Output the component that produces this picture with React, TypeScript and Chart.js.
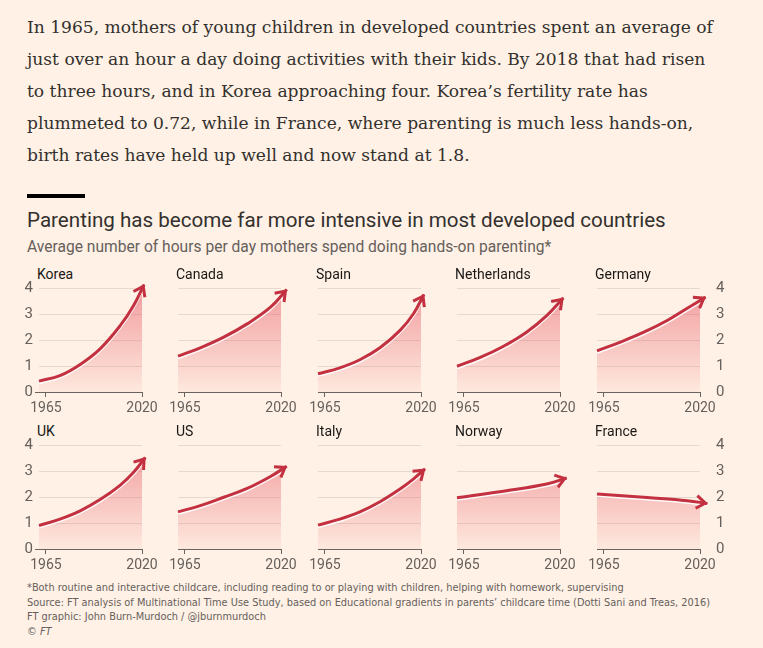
import React, { useEffect, useRef } from "react";
import { Chart, registerables } from "chart.js";

Chart.register(...registerables);

// ---------- DATA ----------
const countryNames = ["Korea", "Canada", "Spain", "Netherlands", "Germany", "UK", "US", "Italy", "Norway", "France"];

const koreaYears = [1961, 1973, 1984.6, 1996, 2007.6, 2015.2, 2021.2];
const koreaHours = [0.42, 0.63, 1.06, 1.66, 2.56, 3.33, 4.13];

const canadaYears = [1961, 1973.8, 1987.2, 2000.6, 2014, 2023.3];
const canadaHours = [1.38, 1.7, 2.11, 2.62, 3.26, 3.94];

const spainYears = [1961, 1973.5, 1985, 1996.5, 2008, 2015.6, 2021.7];
const spainHours = [0.7, 0.93, 1.24, 1.7, 2.37, 3.0, 3.75];

const netherlandsYears = [1961, 1974, 1987.4, 2000.8, 2012.4, 2021.9];
const netherlandsHours = [0.99, 1.32, 1.75, 2.3, 2.94, 3.62];

const germanyYears = [1961, 1974.4, 1987.8, 2001.2, 2012.7, 2023.2];
const germanyHours = [1.58, 1.92, 2.3, 2.75, 3.22, 3.65];

const ukYears = [1961, 1973, 1984.6, 1996, 2007.6, 2015.2, 2021.9];
const ukHours = [0.9, 1.15, 1.47, 1.9, 2.46, 2.95, 3.52];

const usYears = [1961, 1973.8, 1987.2, 2000.6, 2014, 2023.3];
const usHours = [1.43, 1.67, 1.99, 2.33, 2.79, 3.18];

const italyYears = [1961, 1973.5, 1985, 1996.5, 2008, 2015.6, 2022.3];
const italyHours = [0.92, 1.15, 1.43, 1.82, 2.31, 2.69, 3.08];

const norwayYears = [1961, 1989.4, 2012.4, 2023.8];
const norwayHours = [1.97, 2.24, 2.5, 2.73];

const franceYears = [1961, 1989.7, 2012.7, 2024.2];
const franceHours = [2.12, 1.98, 1.86, 1.75];

const seriesYears = [koreaYears, canadaYears, spainYears, netherlandsYears, germanyYears, ukYears, usYears, italyYears, norwayYears, franceYears];
const seriesHours = [koreaHours, canadaHours, spainHours, netherlandsHours, germanyHours, ukHours, usHours, italyHours, norwayHours, franceHours];

const xTickYears = [1965, 2020];
const xMin = 1961;
const xMax = 2020;
const yTickValues = [0, 1, 2, 3, 4];

// ---------- STYLE ----------
const LINE_COLOR = "#c3303f";
const AXIS_COLOR = "#6b6360";
const GRID_COLOR = "#e6d9ce";
const TEXT_GREY = "#66605c";
const SANS = "Roboto, 'Open Sans', sans-serif";

const PLOT_LEFTS = [39, 178, 318, 457, 597];
const ROW_TOPS = [288, 445];
const PLOT_W = 103;
const PAD_TOP = 28;
const LEFT_W = 30;
const RIGHT_W = 37;
const BOTTOM_H = 26;
const PLOT_H = 104;

const arrowPlugin = {
  id: "arrowHead",
  beforeDatasetDraw(chart: any, args: any) {
    if (args.index !== 0) return;
    const ctx = chart.ctx;
    ctx.save();
    ctx.shadowColor = "rgba(255,255,255,0.9)";
    ctx.shadowOffsetX = 0;
    ctx.shadowOffsetY = 1.6;
    ctx.shadowBlur = 0;
  },
  afterDatasetDraw(chart: any, args: any) {
    if (args.index !== 0) return;
    chart.ctx.restore();
  },
  afterDatasetsDraw(chart: any) {
    const meta = chart.getDatasetMeta(0);
    const pts = meta.data;
    if (!pts || pts.length < 2) return;
    const last = pts[pts.length - 1];
    let dx = 0, dy = 0;
    if (last.cp1x !== undefined && last.cp1x !== null) {
      dx = last.x - last.cp1x;
      dy = last.y - last.cp1y;
    }
    if (Math.abs(dx) + Math.abs(dy) < 0.01) {
      const prev = pts[pts.length - 2];
      dx = last.x - prev.x;
      dy = last.y - prev.y;
    }
    const ang = Math.atan2(dy, dx);
    const len = 11;
    const spread = 0.62;
    const ax = last.x - 2 * Math.cos(ang);
    const ay = last.y - 2 * Math.sin(ang);
    const ctx = chart.ctx;
    ctx.save();
    ctx.strokeStyle = LINE_COLOR;
    ctx.lineWidth = 3;
    ctx.lineJoin = "miter";
    ctx.lineCap = "butt";
    ctx.beginPath();
    ctx.moveTo(ax - len * Math.cos(ang - spread), ay - len * Math.sin(ang - spread));
    ctx.lineTo(ax, ay);
    ctx.lineTo(ax - len * Math.cos(ang + spread), ay - len * Math.sin(ang + spread));
    ctx.stroke();
    ctx.restore();
  },
};

function Panel({ index }: { index: number }) {
  const ref = useRef<HTMLCanvasElement | null>(null);
  const col = index % 5;
  const row = Math.floor(index / 5);
  const plotLeft = PLOT_LEFTS[col];
  const plotTop = ROW_TOPS[row];
  const canvasW = LEFT_W + PLOT_W + RIGHT_W;
  const canvasH = PAD_TOP + PLOT_H + BOTTOM_H;

  useEffect(() => {
    if (!ref.current) return;
    const pts = seriesYears[index].map((yr, i) => ({ x: yr, y: seriesHours[index][i] }));
    const showLeft = col === 0;
    const showRight = col === 4;
    const chart = new Chart(ref.current, {
      type: "line",
      data: {
        datasets: [
          {
            data: pts,
            borderColor: LINE_COLOR,
            borderWidth: 3,
            pointRadius: 0,
            fill: false,
            clip: false as any,
            tension: 0.4,
            borderCapStyle: "butt",
          },
          {
            data: pts,
            borderWidth: 0,
            borderColor: "rgba(0,0,0,0)",
            pointRadius: 0,
            fill: "origin",
            tension: 0.4,
            backgroundColor: (ctx: any) => {
              const area = ctx.chart.chartArea;
              if (!area) return "rgba(232,100,112,0.3)";
              const g = ctx.chart.ctx.createLinearGradient(0, area.top, 0, area.bottom);
              g.addColorStop(0, "rgba(232,96,108,0.58)");
              g.addColorStop(1, "rgba(232,96,108,0.06)");
              return g;
            },
          },
        ],
      },
      options: {
        animation: false,
        responsive: false,
        devicePixelRatio: 1,
        layout: { padding: { top: PAD_TOP, left: 0, right: 0, bottom: 0 } },
        plugins: { legend: { display: false }, tooltip: { enabled: false }, title: { display: false } },
        scales: {
          x: {
            type: "linear",
            position: "bottom",
            min: xMin,
            max: xMax,
            afterBuildTicks: (scale: any) => {
              scale.ticks = xTickYears.map((v) => ({ value: v }));
            },
            afterFit: (scale: any) => {
              scale.height = BOTTOM_H;
            },
            ticks: {
              autoSkip: false,
              maxRotation: 0,
              padding: 3,
              color: TEXT_GREY,
              font: { family: SANS, size: 14 },
              callback: (v: any) => String(v),
            },
            grid: {
              drawOnChartArea: false,
              drawTicks: true,
              tickLength: 5,
              color: AXIS_COLOR,
            },
            border: { display: true, color: AXIS_COLOR, width: 1 },
          },
          y: {
            position: "left",
            min: 0,
            max: 4,
            afterBuildTicks: (scale: any) => {
              scale.ticks = yTickValues.map((v) => ({ value: v }));
            },
            afterFit: (scale: any) => {
              scale.width = LEFT_W;
            },
            ticks: {
              display: showLeft,
              padding: 2,
              color: TEXT_GREY,
              font: { family: SANS, size: 15 },
              callback: (v: any) => String(v),
            },
            grid: {
              color: GRID_COLOR,
              drawTicks: true,
              tickLength: 4,
              tickColor: (c: any) => (showLeft && c.tick && c.tick.value === 0 ? AXIS_COLOR : "rgba(0,0,0,0)"),
            },
            border: { display: false },
          },
          y2: {
            position: "right",
            min: 0,
            max: 4,
            afterBuildTicks: (scale: any) => {
              scale.ticks = yTickValues.map((v) => ({ value: v }));
            },
            afterFit: (scale: any) => {
              scale.width = RIGHT_W;
            },
            ticks: {
              display: showRight,
              padding: 16,
              color: TEXT_GREY,
              font: { family: SANS, size: 15 },
              callback: (v: any) => String(v),
            },
            grid: { display: false, drawTicks: false },
            border: { display: false },
          },
        },
      },
      plugins: [arrowPlugin],
    } as any);
    return () => chart.destroy();
  }, [index]);

  return (
    <>
      <div
        style={{
          position: "absolute",
          left: plotLeft - 2,
          top: plotTop - 22,
          font: `14px ${SANS}`,
          lineHeight: "16px",
          color: "#1a1817",
          whiteSpace: "nowrap",
        }}
      >
        {countryNames[index]}
      </div>
      <canvas
        ref={ref}
        width={canvasW}
        height={canvasH}
        style={{
          position: "absolute",
          left: plotLeft - LEFT_W,
          top: plotTop - PAD_TOP,
          width: canvasW,
          height: canvasH,
        }}
      />
    </>
  );
}

export default function App() {
  return (
    <div
      style={{
        position: "absolute",
        left: 0,
        top: 0,
        width: 763,
        height: 648,
        background: "#fff1e5",
        overflow: "hidden",
      }}
    >
      <div
        style={{
          position: "absolute",
          left: 27,
          top: 11,
          font: "17.1px 'DejaVu Serif', serif",
          lineHeight: "32px",
          color: "#33302e",
          whiteSpace: "nowrap",
        }}
      >
        In 1965, mothers of young children in developed countries spent an average of
        <br />
        just over an hour a day doing activities with their kids. By 2018 that had risen
        <br />
        to three hours, and in Korea approaching four. Korea’s fertility rate has
        <br />
        plummeted to 0.72, while in France, where parenting is much less hands-on,
        <br />
        birth rates have held up well and now stand at 1.8.
      </div>
      <div style={{ position: "absolute", left: 27, top: 194, width: 58, height: 4, background: "#000" }} />
      <div
        style={{
          position: "absolute",
          left: 27,
          top: 208,
          font: `20.6px ${SANS}`,
          lineHeight: "25px",
          color: "#33302e",
          whiteSpace: "nowrap",
        }}
      >
        Parenting has become far more intensive in most developed countries
      </div>
      <div
        style={{
          position: "absolute",
          left: 27,
          top: 238,
          font: `15.6px ${SANS}`,
          lineHeight: "18px",
          color: TEXT_GREY,
          whiteSpace: "nowrap",
        }}
      >
        Average number of hours per day mothers spend doing hands-on parenting*
      </div>
      {countryNames.map((_, i) => (
        <Panel key={i} index={i} />
      ))}
      <div
        style={{
          position: "absolute",
          left: 27,
          top: 581,
          font: "10.9px 'Liberation Sans Narrow', 'DejaVu Sans Condensed', Roboto, sans-serif",
          lineHeight: "14.5px",
          color: TEXT_GREY,
          whiteSpace: "nowrap",
        }}
      >
        *Both routine and interactive childcare, including reading to or playing with children, helping with homework, supervising
        <br />
        Source: FT analysis of Multinational Time Use Study, based on Educational gradients in parents’ childcare time (Dotti Sani and Treas, 2016)
        <br />
        FT graphic: John Burn-Murdoch / @jburnmurdoch
        <br />© <i>FT</i>
      </div>
    </div>
  );
}
